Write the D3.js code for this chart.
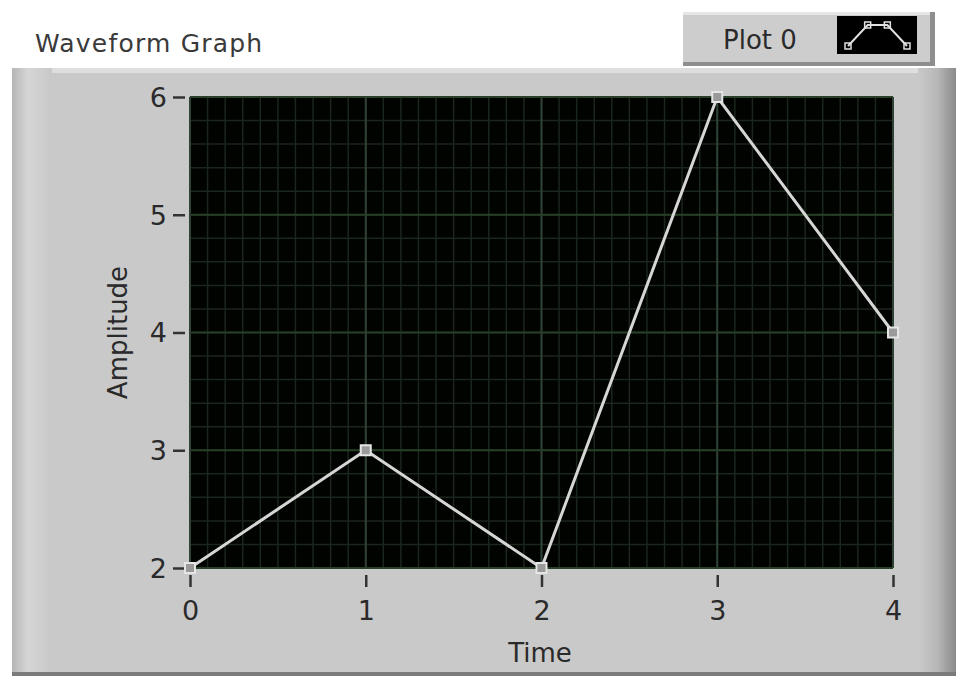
<!DOCTYPE html>
<html><head><meta charset="utf-8">
<script src="https://cdn.jsdelivr.net/npm/d3@7"></script>
<style>
html,body{margin:0;padding:0;background:#fff;}
svg{display:block;}
text{font-family:"DejaVu Sans",sans-serif;}
</style></head>
<body>
<svg id="chart" width="960" height="681"></svg>
<script>
// ---- data ----
const time = [0, 1, 2, 3, 4];
const amplitude = [2, 3, 2, 6, 4];
const xTicks = [0, 1, 2, 3, 4];
const yTicks = [2, 3, 4, 5, 6];
const title = "Waveform Graph";
const seriesName = "Plot 0";
const xLabel = "Time";
const yLabel = "Amplitude";
const legendIcon = [0, 1, 1, 0];

const svg = d3.select("#chart");
const W = 960, H = 681;

const defs = svg.append("defs");
const gradR = defs.append("linearGradient").attr("id","gR").attr("x1","0").attr("x2","1");
gradR.append("stop").attr("offset","0").attr("stop-color","#c9c9c9");
gradR.append("stop").attr("offset","0.5").attr("stop-color","#b8b8b8");
gradR.append("stop").attr("offset","1").attr("stop-color","#8a8a8a");
const gradL = defs.append("linearGradient").attr("id","gL").attr("x1","0").attr("x2","1");
gradL.append("stop").attr("offset","0").attr("stop-color","#b5b5b5");
gradL.append("stop").attr("offset","0.4").attr("stop-color","#d6d6d6");
gradL.append("stop").attr("offset","1").attr("stop-color","#c8c8c8");

// background
svg.append("rect").attr("width",W).attr("height",H).attr("fill","#ffffff");

// main panel
svg.append("rect").attr("x",12).attr("y",68).attr("width",944).attr("height",608).attr("fill","#c9c9c9");
svg.append("rect").attr("x",12).attr("y",68).attr("width",944).attr("height",5).attr("fill","#dedede");
svg.append("rect").attr("x",12).attr("y",68).attr("width",40).attr("height",608).attr("fill","url(#gL)");
svg.append("rect").attr("x",918).attr("y",68).attr("width",38).attr("height",608).attr("fill","url(#gR)");
svg.append("rect").attr("x",12).attr("y",672).attr("width",944).attr("height",4).attr("fill","#7a7a7a");

// title
svg.append("text").attr("x",35).attr("y",52).attr("font-size",25).attr("letter-spacing",1.2)
  .attr("fill","#3a3a3a").text(title);

// legend box
const lg = svg.append("g");
lg.append("rect").attr("x",683).attr("y",12).attr("width",252).attr("height",54).attr("fill","#cdcdcd");
lg.append("rect").attr("x",683).attr("y",12).attr("width",252).attr("height",3).attr("fill","#e6e6e6");
lg.append("rect").attr("x",683).attr("y",62).attr("width",252).attr("height",4).attr("fill","#8e8e8e");
lg.append("rect").attr("x",930).attr("y",12).attr("width",5).attr("height",54).attr("fill","#8e8e8e");
lg.append("text").attr("x",723).attr("y",49).attr("font-size",26).attr("fill","#2a2a2a").text(seriesName);
lg.append("rect").attr("x",837).attr("y",16).attr("width",80).attr("height",38).attr("fill","#000");
const lix = d3.scaleLinear().domain([0,3]).range([848,907]);
const liy = d3.scaleLinear().domain([0,1]).range([46,25]);
lg.append("path").datum(legendIcon)
  .attr("d", d3.line().x((d,i)=>lix(i)).y(d=>liy(d)))
  .attr("fill","none").attr("stroke","#e0e0e0").attr("stroke-width",2);
lg.selectAll("rect.lm").data(legendIcon).join("rect").attr("class","lm")
  .attr("x",(d,i)=>lix(i)-3).attr("y",d=>liy(d)-3).attr("width",6).attr("height",6)
  .attr("fill","none").attr("stroke","#e0e0e0").attr("stroke-width",1.5);

// plot area
const L = 190, R = 893, T = 97, B = 568;
const x = d3.scaleLinear().domain([0,4]).range([L,R]);
const y = d3.scaleLinear().domain([2,6]).range([B,T]);

svg.append("rect").attr("x",L).attr("y",T).attr("width",R-L).attr("height",B-T).attr("fill","#010301");

const minorX = d3.range(0, 40.5, 1).map(d=>d/10);
const minorY = d3.range(10, 30.5, 1).map(d=>d/5);
const grid = svg.append("g");
grid.selectAll("line.vx").data(minorX).join("line").attr("class","vx")
  .attr("x1",d=>x(d)).attr("x2",d=>x(d)).attr("y1",T).attr("y2",B)
  .attr("stroke","#1b261d").attr("stroke-width",1.5);
grid.selectAll("line.hy").data(minorY).join("line").attr("class","hy")
  .attr("x1",L).attr("x2",R).attr("y1",d=>y(d)).attr("y2",d=>y(d))
  .attr("stroke","#1b261d").attr("stroke-width",1.5);
grid.selectAll("line.mx").data(xTicks).join("line").attr("class","mx")
  .attr("x1",d=>x(d)).attr("x2",d=>x(d)).attr("y1",T).attr("y2",B)
  .attr("stroke","#2f4234").attr("stroke-width",2);
grid.selectAll("line.my").data(yTicks).join("line").attr("class","my")
  .attr("x1",L).attr("x2",R).attr("y1",d=>y(d)).attr("y2",d=>y(d))
  .attr("stroke","#274027").attr("stroke-width",2);

// axes
const yAxis = d3.axisLeft(y).tickValues(yTicks).tickFormat(d3.format("d")).tickSize(12).tickPadding(6);
const yg = svg.append("g").attr("transform",`translate(${L-5},0)`).call(yAxis);
yg.select(".domain").remove();
yg.selectAll(".tick line").attr("stroke","#333").attr("stroke-width",2.5);
yg.selectAll(".tick text").attr("font-size",27).attr("fill","#2a2a2a").attr("font-family","DejaVu Sans").attr("dy","0.35em");

const xAxis = d3.axisBottom(x).tickValues(xTicks).tickFormat(d3.format("d")).tickSize(12).tickPadding(14);
const xg = svg.append("g").attr("transform",`translate(0,${B+7})`).call(xAxis);
xg.select(".domain").remove();
xg.selectAll(".tick line").attr("stroke","#333").attr("stroke-width",2.5);
xg.selectAll(".tick text").attr("font-size",27).attr("fill","#2a2a2a").attr("font-family","DejaVu Sans");

svg.append("text").attr("x",540).attr("y",662).attr("text-anchor","middle")
  .attr("font-size",26).attr("fill","#2a2a2a").text(xLabel);
svg.append("text").attr("transform",`translate(127,${(T+B)/2}) rotate(-90)`).attr("text-anchor","middle")
  .attr("font-size",26).attr("fill","#2a2a2a").text(yLabel);

// series
const pts = time.map((t,i)=>({t, a: amplitude[i]}));
svg.append("path").datum(pts)
  .attr("d", d3.line().x(d=>x(d.t)).y(d=>y(d.a)))
  .attr("fill","none").attr("stroke","#d6d6d6").attr("stroke-width",3);
svg.selectAll("rect.mk").data(pts).join("rect").attr("class","mk")
  .attr("x",d=>x(d.t)-5).attr("y",d=>y(d.a)-5).attr("width",10).attr("height",10)
  .attr("fill","#9a9a9a").attr("stroke","#e6e6e6").attr("stroke-width",2);
</script>
</body></html>
